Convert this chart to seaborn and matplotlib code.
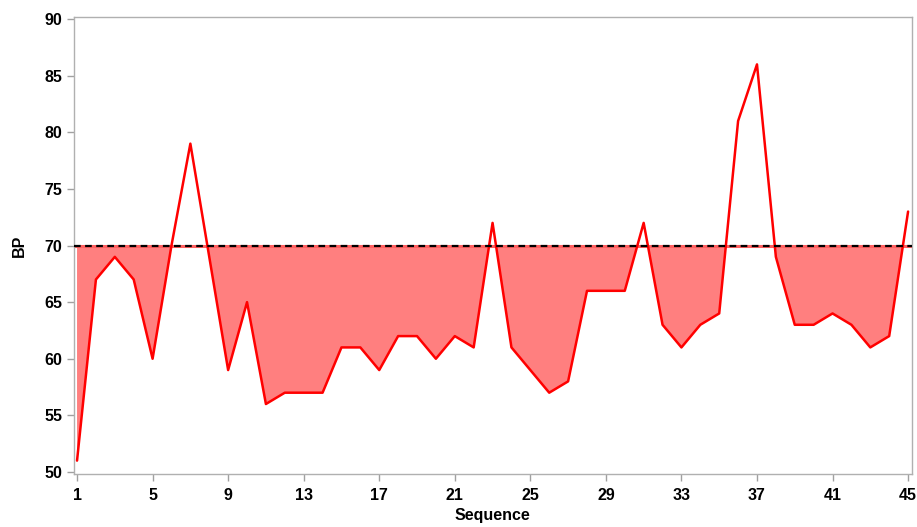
import numpy as np
import pandas as pd
import matplotlib
matplotlib.use("Agg")
import matplotlib.pyplot as plt
import seaborn as sns

# BP readings per sequence step
sequence = list(range(1, 46))
bp = [51, 67, 69, 67, 60, 70, 79, 69, 59, 65,
      56, 57, 57, 57, 61, 61, 59, 62, 62, 60,
      62, 61, 72, 61, 59, 57, 58, 66, 66, 66,
      72, 63, 61, 63, 64, 81, 86, 69, 63, 63,
      64, 63, 61, 62, 73]
threshold = 70
x_ticks = [1, 5, 9, 13, 17, 21, 25, 29, 33, 37, 41, 45]
y_ticks = [50, 55, 60, 65, 70, 75, 80, 85, 90]

df = pd.DataFrame({"Sequence": sequence, "BP": bp})

sns.set_style("white")
plt.rcParams["font.family"] = ["Liberation Sans", "DejaVu Sans"]

fig = plt.figure(figsize=(9.17, 5.27), dpi=100)
ax = fig.add_axes([0.0802, 0.1006, 0.9144, 0.867])

# shaded area below the threshold
ax.fill_between(df["Sequence"], df["BP"], threshold,
                where=df["BP"] < threshold, interpolate=True,
                color="#ff7f7f", linewidth=0, zorder=1)
ax.axhline(threshold, color="#ff6060", lw=2.2, zorder=2)
ax.axhline(threshold, color="black", lw=1.6, ls=(0, (3, 2)), zorder=4)

sns.lineplot(data=df, x="Sequence", y="BP", color="red", lw=1.8, ax=ax, zorder=3)

ax.set_xlim(0.815, 45.21)
ax.set_ylim(49.82, 90.18)
ax.set_xticks(x_ticks)
ax.set_yticks(y_ticks)

for s in ax.spines.values():
    s.set_color("#b0b0b0")
    s.set_linewidth(1.0)
ax.tick_params(axis="both", direction="out", length=5, width=1, color="#a0a0a0",
               labelsize=11.5, labelcolor="black", bottom=True, left=True)
ax.tick_params(axis="x", pad=5)
ax.tick_params(axis="y", pad=3)
for lbl in ax.get_xticklabels() + ax.get_yticklabels():
    lbl.set_fontweight("bold")

ax.set_xlabel("Sequence", fontsize=11.5, fontweight="bold", labelpad=4, color="black")
ax.set_ylabel("BP", fontsize=11.5, fontweight="bold", labelpad=13, color="black")

fig.savefig("out.png", dpi=100)
